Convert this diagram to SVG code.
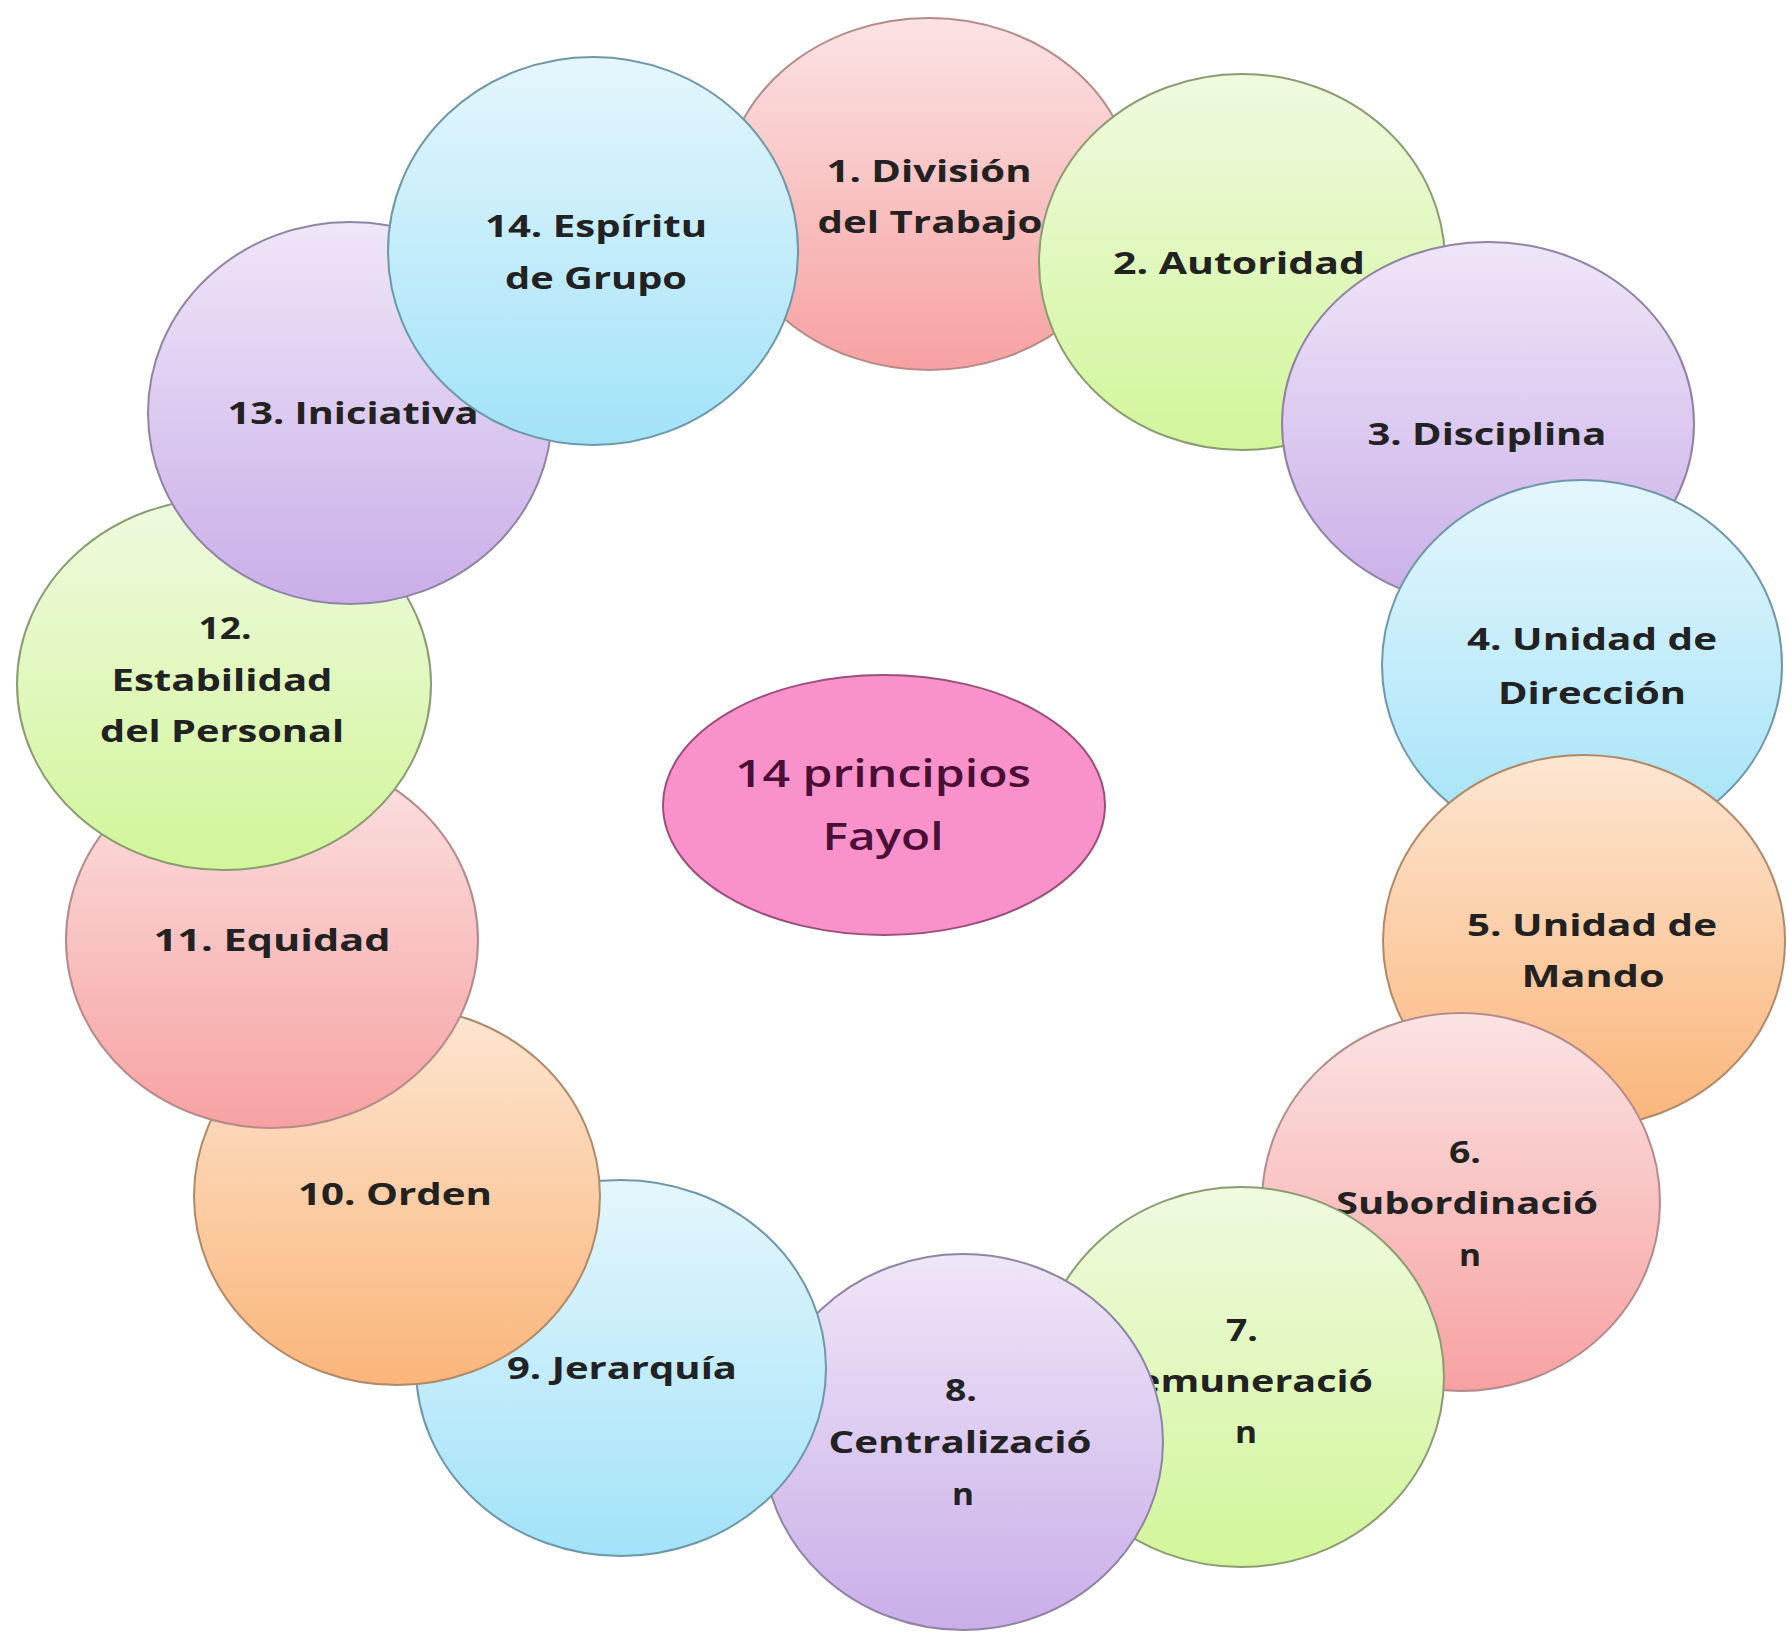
<svg xmlns="http://www.w3.org/2000/svg" width="1787" height="1634" viewBox="0 0 1787 1634">
<style>
.t{font-family:"Open Sans","Liberation Sans",sans-serif;font-weight:700;font-size:31px;fill:#222;}
.c{font-family:"Open Sans","Liberation Sans",sans-serif;font-weight:600;font-size:37px;fill:#4a0f35;}
.pk{fill:url(#gPk);stroke:#b58a8a;stroke-width:2;}
.gr{fill:url(#gGr);stroke:#8c9c72;stroke-width:2;}
.pu{fill:url(#gPu);stroke:#8f84a3;stroke-width:2;}
.bl{fill:url(#gBl);stroke:#6e98a8;stroke-width:2;}
.or{fill:url(#gOr);stroke:#b08a68;stroke-width:2;}
</style>
<defs>
<linearGradient id="gPk" x1="0" y1="0" x2="0" y2="1"><stop offset="0" stop-color="#fbe3e3"/><stop offset="1" stop-color="#f7a1a1"/></linearGradient>
<linearGradient id="gGr" x1="0" y1="0" x2="0" y2="1"><stop offset="0" stop-color="#effadf"/><stop offset="1" stop-color="#d2f59a"/></linearGradient>
<linearGradient id="gPu" x1="0" y1="0" x2="0" y2="1"><stop offset="0" stop-color="#efe6f8"/><stop offset="1" stop-color="#c9aee8"/></linearGradient>
<linearGradient id="gBl" x1="0" y1="0" x2="0" y2="1"><stop offset="0" stop-color="#e4f6fc"/><stop offset="1" stop-color="#a2e2f8"/></linearGradient>
<linearGradient id="gOr" x1="0" y1="0" x2="0" y2="1"><stop offset="0" stop-color="#fde6d2"/><stop offset="1" stop-color="#fab57a"/></linearGradient>
</defs>
<rect width="1787" height="1634" fill="#ffffff"/>
<g id="connectors"></g>
<g id="center">
<ellipse cx="884" cy="805" rx="221" ry="130" fill="#f992cb" stroke="#9c4f7a" stroke-width="2"/>
<text class="c" x="735" y="787" textLength="296" lengthAdjust="spacingAndGlyphs">14 principios</text>
<text class="c" x="822.5" y="850" textLength="121" lengthAdjust="spacingAndGlyphs">Fayol</text>
</g>
<g id="n1">
<ellipse class="pk" cx="929" cy="194" rx="205" ry="176"/>
<text class="t" x="826.5" y="182" textLength="205" lengthAdjust="spacingAndGlyphs">1. División</text>
<text class="t" x="817.5" y="233" textLength="225" lengthAdjust="spacingAndGlyphs">del Trabajo</text>
</g>
<g id="n2">
<ellipse class="gr" cx="1242" cy="262" rx="203" ry="188"/>
<text class="t" x="1113" y="274" textLength="252" lengthAdjust="spacingAndGlyphs">2. Autoridad</text>
</g>
<g id="n3">
<ellipse class="pu" cx="1488" cy="424" rx="206" ry="182"/>
<text class="t" x="1367.5" y="445" textLength="239" lengthAdjust="spacingAndGlyphs">3. Disciplina</text>
</g>
<g id="n4">
<ellipse class="bl" cx="1582" cy="665" rx="200" ry="185"/>
<text class="t" x="1467" y="650" textLength="250" lengthAdjust="spacingAndGlyphs">4. Unidad de</text>
<text class="t" x="1498" y="704" textLength="188" lengthAdjust="spacingAndGlyphs">Dirección</text>
</g>
<g id="n5">
<ellipse class="or" cx="1584" cy="941" rx="201" ry="186"/>
<text class="t" x="1467" y="936" textLength="250" lengthAdjust="spacingAndGlyphs">5. Unidad de</text>
<text class="t" x="1521.5" y="987" textLength="143" lengthAdjust="spacingAndGlyphs">Mando</text>
</g>
<g id="n6">
<ellipse class="pk" cx="1461" cy="1202" rx="199" ry="189"/>
<text class="t" x="1449" y="1163" textLength="32" lengthAdjust="spacingAndGlyphs">6.</text>
<text class="t" x="1336" y="1214" textLength="262" lengthAdjust="spacingAndGlyphs">Subordinació</text>
<text class="t" x="1459" y="1266" textLength="22" lengthAdjust="spacingAndGlyphs">n</text>
</g>
<g id="n7">
<ellipse class="gr" cx="1241" cy="1377" rx="203" ry="190"/>
<text class="t" x="1226" y="1341" textLength="32" lengthAdjust="spacingAndGlyphs">7.</text>
<text class="t" x="1111" y="1392" textLength="262" lengthAdjust="spacingAndGlyphs">Remuneració</text>
<text class="t" x="1235" y="1443" textLength="22" lengthAdjust="spacingAndGlyphs">n</text>
</g>
<g id="n8">
<ellipse class="pu" cx="963" cy="1442" rx="200" ry="188"/>
<text class="t" x="945" y="1401" textLength="32" lengthAdjust="spacingAndGlyphs">8.</text>
<text class="t" x="828.5" y="1453" textLength="263" lengthAdjust="spacingAndGlyphs">Centralizació</text>
<text class="t" x="952" y="1505" textLength="22" lengthAdjust="spacingAndGlyphs">n</text>
</g>
<g id="n9">
<ellipse class="bl" cx="621" cy="1368" rx="205" ry="188"/>
<text class="t" x="507" y="1379" textLength="230" lengthAdjust="spacingAndGlyphs">9. Jerarquía</text>
</g>
<g id="n10">
<ellipse class="or" cx="397" cy="1196" rx="203" ry="189"/>
<text class="t" x="298" y="1205" textLength="194" lengthAdjust="spacingAndGlyphs">10. Orden</text>
</g>
<g id="n11">
<ellipse class="pk" cx="272" cy="940" rx="206" ry="188"/>
<text class="t" x="153.5" y="951" textLength="237" lengthAdjust="spacingAndGlyphs">11. Equidad</text>
</g>
<g id="n12">
<ellipse class="gr" cx="224" cy="684" rx="207" ry="186"/>
<text class="t" x="198.5" y="639" textLength="53" lengthAdjust="spacingAndGlyphs">12.</text>
<text class="t" x="111.5" y="691" textLength="221" lengthAdjust="spacingAndGlyphs">Estabilidad</text>
<text class="t" x="100" y="742" textLength="244" lengthAdjust="spacingAndGlyphs">del Personal</text>
</g>
<g id="n13">
<ellipse class="pu" cx="350" cy="413" rx="202" ry="191"/>
<text class="t" x="227.5" y="424" textLength="251" lengthAdjust="spacingAndGlyphs">13. Iniciativa</text>
</g>
<g id="n14">
<ellipse class="bl" cx="593" cy="251" rx="205" ry="194"/>
<text class="t" x="485" y="237" textLength="222" lengthAdjust="spacingAndGlyphs">14. Espíritu</text>
<text class="t" x="505" y="289" textLength="182" lengthAdjust="spacingAndGlyphs">de Grupo</text>
</g>
</svg>
